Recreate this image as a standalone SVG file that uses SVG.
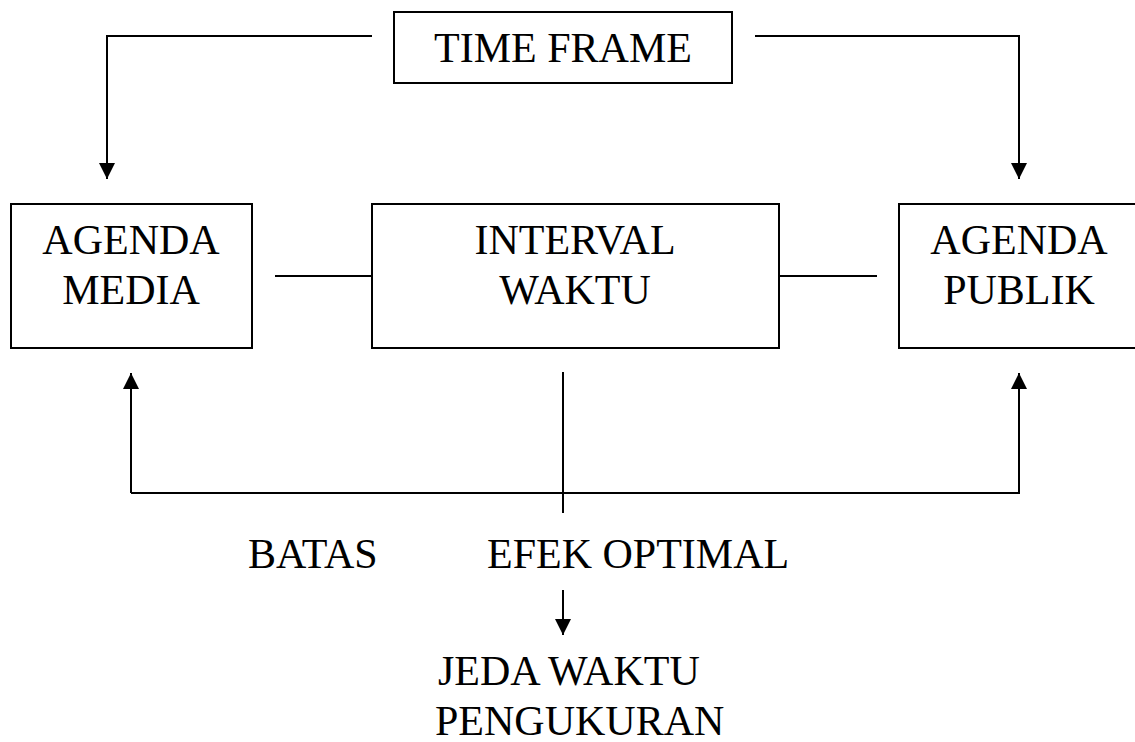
<svg xmlns="http://www.w3.org/2000/svg" width="1135" height="742" viewBox="0 0 1135 742">
<style>
.box{fill:#fff;stroke:#000;stroke-width:2}
.ln{fill:none;stroke:#000;stroke-width:2}
text{font-family:"Liberation Serif","Times New Roman",serif;font-size:42px;fill:#000}
.c{text-anchor:middle}
</style>
<defs>
<marker id="ah" viewBox="0 0 16 16" refX="16" refY="8" markerWidth="16" markerHeight="16" markerUnits="userSpaceOnUse" orient="auto">
<path d="M0,0 L16,8 L0,16 Z" fill="#000"/>
</marker>
</defs>
<rect width="1135" height="742" fill="#fff"/>
<g id="connectors">
<polyline class="ln" points="372,36 107,36 107,179" marker-end="url(#ah)"/>
<polyline class="ln" points="755,36 1019,36 1019,179" marker-end="url(#ah)"/>
<line class="ln" x1="275" y1="276" x2="372" y2="276"/>
<line class="ln" x1="779" y1="276" x2="877" y2="276"/>
<polyline class="ln" points="131,493 131,373" marker-end="url(#ah)"/>
<polyline class="ln" points="131,493 1019,493 1019,373" marker-end="url(#ah)"/>
<line class="ln" x1="563" y1="372" x2="563" y2="513"/>
<line class="ln" x1="563" y1="590" x2="563" y2="635" marker-end="url(#ah)"/>
</g>
<g id="time-frame">
<rect class="box" x="394" y="12" width="338" height="71"/>
<text class="c" x="563" y="62">TIME FRAME</text>
</g>
<g id="agenda-media">
<rect class="box" x="11" y="204" width="241" height="144"/>
<text class="c" x="131" y="254">AGENDA</text>
<text class="c" x="131" y="304">MEDIA</text>
</g>
<g id="interval-waktu">
<rect class="box" x="372" y="204" width="407" height="144"/>
<text class="c" x="575" y="254">INTERVAL</text>
<text class="c" x="575" y="304">WAKTU</text>
</g>
<g id="agenda-publik">
<rect class="box" x="899" y="204" width="250" height="144"/>
<text class="c" x="1019" y="254">AGENDA</text>
<text class="c" x="1019" y="304">PUBLIK</text>
</g>
<g id="batas">
<text x="248" y="568">BATAS</text>
</g>
<g id="efek-optimal">
<text x="487" y="568">EFEK OPTIMAL</text>
</g>
<g id="jeda-waktu">
<text x="438" y="685">JEDA WAKTU</text>
<text x="435" y="735">PENGUKURAN</text>
</g>
</svg>
